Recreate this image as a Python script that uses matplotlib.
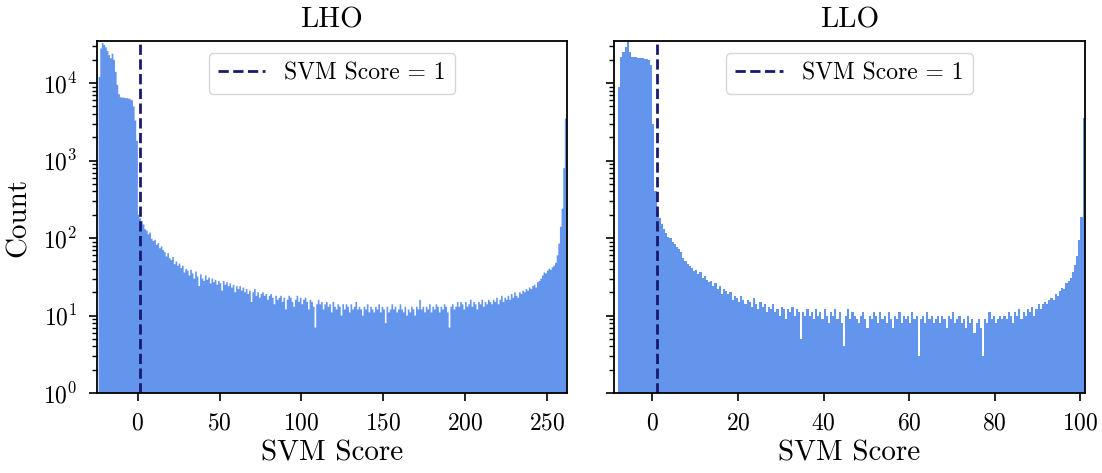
import numpy as np
import matplotlib
matplotlib.use("Agg")
import matplotlib.pyplot as plt

plt.rcParams['font.family'] = 'serif'
plt.rcParams['font.serif'] = ['cmr10']
plt.rcParams['mathtext.fontset'] = 'cm'
plt.rcParams['axes.formatter.use_mathtext'] = True

# LHO: bin counts, bins of width 1 starting at score -24 (one row = 10 bins)
lho_start, lho_width = -24, 1
lho_counts = [
    12000, 28000, 33000, 31000, 29000, 26000, 23000, 21000, 24000, 20000,
    14000, 9500, 7200, 6600, 6500, 6500, 6400, 6400, 6300, 6200,
    6000, 5000, 3300, 1800, 200, 180, 165, 150, 130, 125,
    112, 118, 98, 92, 95, 82, 86, 74, 78, 70,
    66, 58, 64, 55, 52, 57, 46, 50, 44, 47,
    41, 44, 36, 40, 38, 33, 39, 35, 30, 37,
    32, 24, 34, 30, 28, 33, 29, 31, 26, 30,
    27, 29, 25, 28, 26, 21, 28, 25, 27, 24,
    26, 23, 25, 20, 24, 22, 24, 21, 23, 20,
    22, 19, 21, 15, 20, 22, 18, 20, 17, 19,
    20, 18, 19, 16, 18, 19, 17, 14, 18, 16,
    17, 18, 15, 17, 12, 16, 18, 17, 15, 13,
    16, 18, 15, 17, 14, 16, 17, 15, 12, 16,
    15, 13, 7, 14, 16, 14, 15, 12, 14, 15,
    13, 14, 11, 15, 13, 12, 14, 13, 10, 14,
    12, 14, 13, 11, 14, 12, 13, 15, 12, 13,
    12, 10, 13, 12, 14, 11, 13, 12, 11, 13,
    12, 14, 11, 13, 12, 8, 13, 11, 12, 14,
    12, 13, 11, 12, 14, 12, 11, 13, 10, 12,
    11, 13, 12, 10, 13, 12, 16, 12, 13, 11,
    13, 12, 14, 11, 13, 12, 14, 13, 11, 13,
    12, 14, 13, 11, 7, 13, 14, 12, 13, 15,
    13, 15, 14, 12, 15, 13, 14, 16, 13, 15,
    14, 12, 15, 14, 16, 13, 15, 14, 16, 15,
    14, 16, 15, 17, 14, 16, 18, 15, 17, 16,
    18, 16, 19, 17, 20, 18, 17, 20, 19, 21,
    20, 22, 21, 23, 22, 24, 25, 23, 27, 28,
    30, 33, 36, 35, 38, 40, 39, 42, 44, 48,
    60, 85, 140, 240, 800, 3500,
]

# LLO: bin counts, bins of width 0.5 starting at score -8 (one row = 10 bins)
llo_start, llo_width = -8, 0.5
llo_counts = [
    9000, 22000, 25000, 29000, 34000, 25000, 22000, 21500, 21500, 21000,
    21000, 21000, 20500, 20500, 20000, 17000, 3000, 400, 205, 180,
    150, 130, 118, 104, 100, 88, 84, 76, 72, 66,
    55, 50, 47, 44, 41, 38, 39, 34, 36, 31,
    32, 29, 27, 28, 24, 26, 22, 24, 19, 22,
    21, 19, 20, 16, 18, 17, 15, 18, 16, 14,
    16, 15, 13, 17, 14, 12, 15, 13, 14, 11,
    13, 12, 14, 11, 12, 10, 13, 12, 9, 12,
    11, 13, 10, 12, 11, 5, 11, 10, 12, 10,
    11, 9, 12, 10, 11, 9, 12, 10, 8, 11,
    10, 12, 9, 11, 8, 4, 10, 12, 9, 11,
    10, 9, 8, 10, 11, 9, 7, 10, 9, 11,
    10, 8, 11, 9, 10, 8, 11, 9, 7, 10,
    9, 11, 8, 10, 9, 10, 8, 11, 9, 10,
    3, 9, 10, 8, 11, 9, 10, 8, 9, 10,
    8, 10, 9, 7, 10, 9, 11, 8, 9, 10,
    8, 9, 7, 10, 8, 9, 6, 8, 9, 7,
    3, 9, 8, 11, 9, 10, 8, 9, 10, 9,
    10, 9, 11, 10, 8, 11, 10, 12, 9, 11,
    10, 12, 11, 13, 10, 12, 14, 12, 14, 15,
    14, 16, 17, 16, 19, 18, 21, 23, 22, 26,
    28, 31, 36, 45, 58, 95, 185, 3500,
]

panels = [
    ("LHO", lho_start, lho_width, lho_counts, (-25, 262.3), [0, 50, 100, 150, 200, 250]),
    ("LLO", llo_start, llo_width, llo_counts, (-9, 101.05), [0, 20, 40, 60, 80, 100]),
]

fig = plt.figure(figsize=(11.02, 4.73), dpi=100)
ax1 = fig.add_axes([0.088, 0.169, 0.4265, 0.7443])
ax2 = fig.add_axes([0.557, 0.169, 0.4275, 0.7443], sharey=ax1)

for ax, (name, start, width, counts, xlim, xticks) in zip([ax1, ax2], panels):
    edges = start + width * np.arange(len(counts) + 1)
    ax.hist(edges[:-1], bins=edges, weights=counts, histtype='stepfilled',
            color='cornflowerblue', log=True, linewidth=0)
    ax.axvline(1, color='midnightblue', linestyle='--', linewidth=2, label='SVM Score = 1')
    ax.set_xlim(*xlim)
    ax.set_ylim(1, 3.5e4)
    ax.set_xticks(xticks)
    ax.set_title(name, fontsize=21, pad=10)
    ax.set_xlabel('SVM Score', fontsize=21, labelpad=4)
    ax.tick_params(axis='both', labelsize=17, width=1.2, length=6, pad=8)
    ax.tick_params(axis='y', which='minor', width=1, length=3.5)
    for s in ax.spines.values():
        s.set_linewidth(1.3)
    ax.legend(loc='upper center', fontsize=17, borderaxespad=0.5)

ax1.set_ylabel('Count', fontsize=21, labelpad=8)
ax2.tick_params(axis='y', which='both', labelleft=False)

fig.savefig('out.png', dpi=100)
